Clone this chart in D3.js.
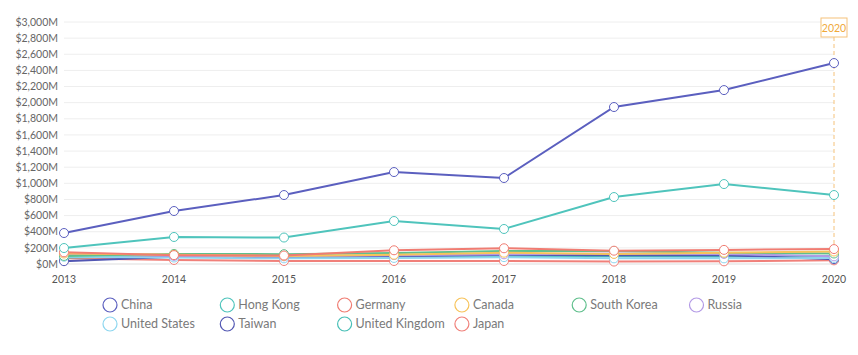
<!DOCTYPE html>
<html><head><meta charset="utf-8">
<script src="https://cdn.jsdelivr.net/npm/d3@7"></script>
<style>body{margin:0;background:#fff;font-family:"Source Sans Pro",Lato,"Noto Sans",sans-serif;}</style>
</head><body><svg id="c" width="858" height="355"></svg>
<script>
const years = [2013,2014,2015,2016,2017,2018,2019,2020];
const yTicks = [0,200,400,600,800,1000,1200,1400,1600,1800,2000,2200,2400,2600,2800,3000];
const seriesNames = ["China","Hong Kong","Germany","Canada","South Korea","Russia","United States","Taiwan","United Kingdom","Japan"];
const seriesColors = ["#5b5fbf","#4fc4bc","#f07c72","#f7c35a","#5fbf8c","#b39ae6","#8dd6ef","#5257b3","#47bfb6","#f0807a"];
const china = [384,657,855,1140,1066,1946,2156,2491];
const hongKong = [198,335,328,533,434,830,991,855];
const germany = [145,110,105,170,195,165,175,185];
const canada = [130,115,100,115,140,125,140,155];
const southKorea = [100,125,122,135,160,160,140,130];
const russia = [120,100,95,110,120,130,125,95];
const unitedStates = [90,80,70,75,85,70,70,75];
const taiwan = [35,90,85,90,115,110,110,60];
const unitedKingdom = [80,95,90,100,100,95,90,100];
const japan = [70,50,37,37,37,30,33,45];
const seriesValues = [china,hongKong,germany,canada,southKorea,russia,unitedStates,taiwan,unitedKingdom,japan];
const highlightYear = 2020;

const svg = d3.select("#c");
const x = d3.scalePoint().domain(years).range([64,834]);
const y = d3.scaleLinear().domain([0,3000]).range([264,22]);

// grid
svg.append("g").selectAll("line").data(yTicks).join("line")
  .attr("x1",64).attr("x2",834).attr("y1",d=>y(d)).attr("y2",d=>y(d))
  .attr("stroke",d=>d===0?"#ddd":"#eeeeee").attr("stroke-width",1);
svg.append("g").selectAll("text").data(yTicks).join("text")
  .attr("x",58).attr("y",d=>y(d)).attr("dy","0.35em").attr("text-anchor","end")
  .attr("font-size",10.5).attr("fill","#666")
  .text(d=>"$"+d3.format(",")(d)+"M");
svg.append("g").selectAll("text").data(years).join("text")
  .attr("x",d=>x(d)).attr("y",283).attr("text-anchor","middle")
  .attr("font-size",10.5).attr("fill","#555").text(d=>d);

// crosshair
svg.append("line").attr("x1",x(highlightYear)).attr("x2",x(highlightYear)).attr("y1",37).attr("y2",264)
  .attr("stroke","#f5c27a").attr("stroke-dasharray","4,3").attr("stroke-width",1);

const line = d3.line().x((d,i)=>x(years[i])).y(d=>y(d));
const order = d3.range(seriesNames.length).reverse();
order.forEach(k=>{
  svg.append("path").datum(seriesValues[k]).attr("d",line).attr("fill","none")
    .attr("stroke",seriesColors[k]).attr("stroke-width",2);
});
order.forEach(k=>{
  svg.append("g").selectAll("circle").data(seriesValues[k]).join("circle")
    .attr("cx",(d,i)=>x(years[i])).attr("cy",d=>y(d)).attr("r",4.5)
    .attr("fill","#fff").attr("stroke",seriesColors[k]).attr("stroke-width",1);
});

// tooltip label
const tg = svg.append("g");
tg.append("rect").attr("x",x(highlightYear)-13).attr("y",18).attr("width",26).attr("height",19)
  .attr("fill","#fff").attr("stroke","#f5c27a").attr("stroke-width",1);
tg.append("text").attr("x",x(highlightYear)).attr("y",28).attr("dy","0.35em").attr("text-anchor","middle")
  .attr("font-size",10.5).attr("fill","#f0a93a").text(highlightYear);

// legend
const lg = svg.append("g");
seriesNames.forEach((n,i)=>{
  const col = i<6 ? i : i-6;
  const row = i<6 ? 0 : 1;
  const cx = 110 + col*117.3, cy = 305 + row*19;
  lg.append("circle").attr("cx",cx).attr("cy",cy).attr("r",7).attr("fill","none")
    .attr("stroke",seriesColors[i]).attr("stroke-width",1.2);
  lg.append("text").attr("x",cx+11).attr("y",cy).attr("dy","0.35em")
    .attr("font-size",12.5).attr("fill","#7a7a7a").text(n);
});
</script></body></html>
